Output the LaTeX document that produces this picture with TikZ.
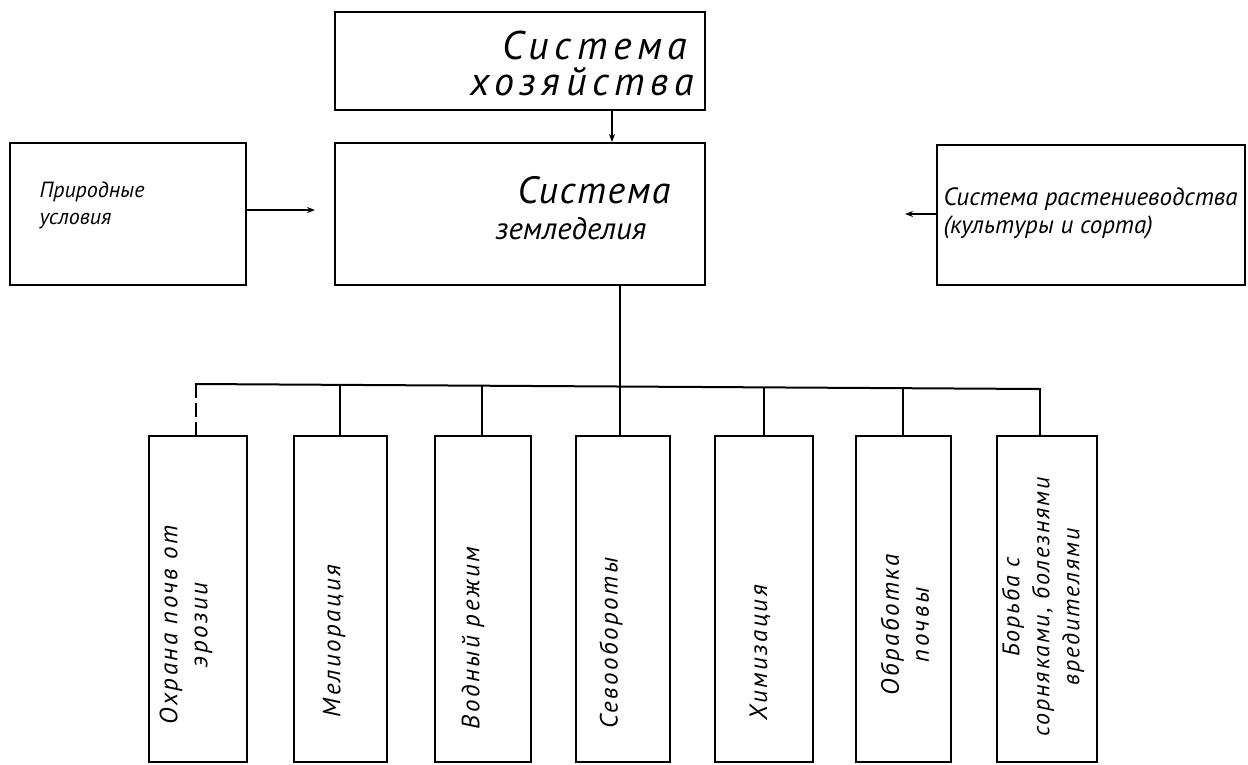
\documentclass[tikz,border=0pt]{standalone}
\usepackage{fontspec}
\setmainfont{PT Sans}
\usetikzlibrary{arrows.meta}
\begin{document}
\begin{tikzpicture}[x=1pt,y=-1pt,
  box/.style={draw,line width=2pt,rectangle,inner sep=0pt},
  conn/.style={line width=2pt},
  arr/.style={line width=2pt,-{Stealth[length=8pt,width=6pt]}},
  vtxt/.style={rotate=90,align=center,font=\fontsize{25}{30}\selectfont\itshape\addfontfeatures{LetterSpace=10}}]
\useasboundingbox (0,0) rectangle (1248,764);
% top level
\node[box,minimum width=370pt,minimum height=98pt] (top) at (520,61) {};
\node[font=\fontsize{40}{44}\selectfont\itshape\addfontfeatures{LetterSpace=14}] (topa) at (595,45) {Система};
\node[font=\fontsize{40}{44}\selectfont\itshape\addfontfeatures{LetterSpace=14}] (topb) at (582,82) {хозяйства};
\node[box,minimum width=370pt,minimum height=142pt] (mid) at (520,214) {};
\node[font=\fontsize{38}{40}\selectfont\itshape\addfontfeatures{LetterSpace=4}] (mida) at (594,190) {Система};
\node[font=\fontsize{31}{34}\selectfont\itshape] (midb) at (571,229) {земледелия};
\node[box,minimum width=236pt,minimum height=142pt] (left) at (128,214) {};
\node[font=\fontsize{22}{27}\selectfont\itshape,align=left,anchor=west] (lefttxt) at (36,205) {Природные\\условия};
\node[box,minimum width=308pt,minimum height=140pt] (right) at (1091,215) {};
\node[font=\fontsize{25}{28}\selectfont\itshape,align=left,anchor=west] (righttxt) at (940,213) {Система растениеводства\\(культуры и сорта)};
% connectors top
\draw[arr] (top.south -| 612,0) -- (mid.north -| 612,0);
\coordinate (la) at (315,210);
\draw[arr] (left.east |- la) -- (la);
\coordinate (ra) at (905,214);
\draw[arr] (right.west |- ra) -- (ra);
% bottom boxes
\foreach \n/\x/\w in {b1/198/98,b2/340.5/93,b3/483/96,b4/623/94,b5/764/98,b6/903.5/95,b7/1047/100}{
  \node[box,minimum width=\w pt,minimum height=326pt] (\n) at (\x,599) {};
}
\node[vtxt] at (186,625) {Охрана почв от\\эрозии};
\node[vtxt] at (334,641) {Мелиорация};
\node[vtxt] at (473,638) {Водный режим};
\node[vtxt] at (611,643) {Севообороты};
\node[vtxt] at (760,653) {Химизация};
\node[vtxt] at (905,625) {Обработка\\почвы};
\node[vtxt,font=\fontsize{24}{30}\selectfont\itshape\addfontfeatures{LetterSpace=8}] at (1043,607) {Борьба с\\сорняками, болезнями\\вредителями};
% bus
\coordinate (busl) at (196,384);
\coordinate (busr) at (1040,389);
\coordinate (busm) at (620,386);
\draw[conn] (mid.south -| busm) -- (busm);
\draw[conn,line cap=rect] (busl) -- (busr);
\draw[conn,dashed,dash pattern=on 14pt off 5pt] (busl) -- (b1.north -| busl);
\draw[conn] (340,385) -- (b2.north -| 340,0);
\draw[conn] (482,385.5) -- (b3.north -| 482,0);
\draw[conn] (764,387) -- (b5.north -| 764,0);
\draw[conn] (903,388) -- (b6.north -| 903,0);
\draw[conn] (busr) -- (b7.north -| busr);
\draw[conn] (busm) -- (b4.north -| busm);
\end{tikzpicture}
\end{document}
